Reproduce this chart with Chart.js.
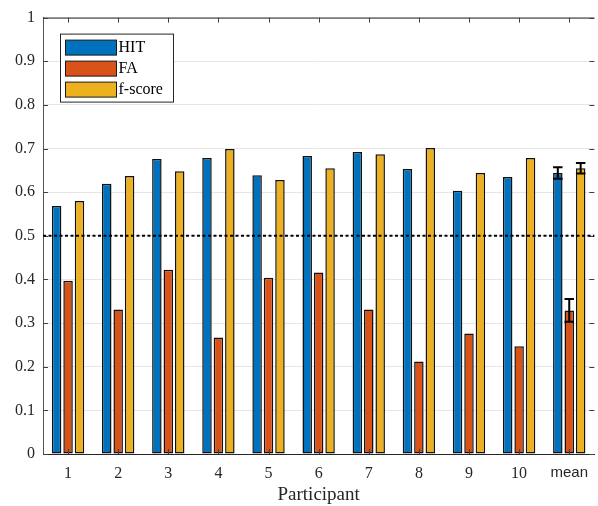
<!DOCTYPE html>
<html>
<head>
<meta charset="utf-8">
<script src="https://cdn.jsdelivr.net/npm/chart.js@4.4.1/dist/chart.umd.min.js"></script>
<style>
body { margin: 0; background: #fff; }
</style>
</head>
<body>
<canvas id="myChart" width="598" height="506"></canvas>
<script>
"use strict";

const categories = ['1', '2', '3', '4', '5', '6', '7', '8', '9', '10', 'mean'];
const hit = [0.568, 0.619, 0.676, 0.678, 0.639, 0.683, 0.692, 0.653, 0.603, 0.635, 0.644];
const fa = [0.397, 0.331, 0.422, 0.267, 0.404, 0.416, 0.331, 0.212, 0.276, 0.247, 0.329];
const fscore = [0.580, 0.637, 0.648, 0.699, 0.628, 0.655, 0.687, 0.701, 0.644, 0.678, 0.655];
// error bars only on the mean group
const hitErr = [null, null, null, null, null, null, null, null, null, null, 0.013];
const faErr = [null, null, null, null, null, null, null, null, null, null, 0.026];
const fscoreErr = [null, null, null, null, null, null, null, null, null, null, 0.012];
const chanceLevel = 0.5;

const ctx = document.getElementById('myChart');
const serif = "'Liberation Serif', 'DejaVu Serif', serif";

// dotted line at chance level + error bars + inner ticks + top border
const extras = {
    id: 'extras',
    afterDatasetsDraw(chart) {
        const c = chart.ctx;
        const a = chart.chartArea;
        const ys = chart.scales.y;
        const xs = chart.scales.x;

        c.save();
        // top border
        c.strokeStyle = '#262626';
        c.lineWidth = 1;
        c.beginPath();
        c.moveTo(a.left, a.top + 0.5);
        c.lineTo(a.right, a.top + 0.5);
        c.stroke();

        // inner ticks
        c.strokeStyle = '#404040';
        ys.ticks.forEach((t, i) => {
            const y = Math.round(ys.getPixelForTick(i)) + 0.5;
            c.beginPath();
            c.moveTo(a.left, y);
            c.lineTo(a.left + 5, y);
            c.moveTo(a.right, y);
            c.lineTo(a.right - 5, y);
            c.stroke();
        });
        xs.ticks.forEach((t, i) => {
            const x = Math.round(xs.getPixelForTick(i)) + 0.5;
            c.beginPath();
            c.moveTo(x, a.bottom);
            c.lineTo(x, a.bottom - 5);
            c.moveTo(x, a.top);
            c.lineTo(x, a.top + 5);
            c.stroke();
        });

        // chance line
        const y5 = ys.getPixelForValue(chanceLevel);
        c.strokeStyle = '#000';
        c.lineWidth = 2;
        c.setLineDash([3, 2.5]);
        c.beginPath();
        c.moveTo(a.left, y5);
        c.lineTo(a.right, y5);
        c.stroke();
        c.setLineDash([]);

        // error bars
        const errs = [hitErr, faErr, fscoreErr];
        chart.data.datasets.forEach((ds, i) => {
            const meta = chart.getDatasetMeta(i);
            errs[i].forEach((e, j) => {
                if (e == null) return;
                const bar = meta.data[j];
                const v = ds.data[j];
                const yt = ys.getPixelForValue(v + e);
                const yb = ys.getPixelForValue(v - e);
                const hw = bar.width / 2;
                c.strokeStyle = '#000';
                c.lineWidth = 2;
                c.beginPath();
                c.moveTo(bar.x, yt);
                c.lineTo(bar.x, yb);
                c.moveTo(bar.x - hw, yt);
                c.lineTo(bar.x + hw, yt);
                c.moveTo(bar.x - hw, yb);
                c.lineTo(bar.x + hw, yb);
                c.stroke();
            });
        });
        c.restore();
    },
    afterDraw(chart) {
        // legend box inside the axes
        const c = chart.ctx;
        const a = chart.chartArea;
        const x0 = a.left + 17.5, y0 = a.top + 16.5, w = 113, h = 68;
        c.save();
        c.fillStyle = '#fff';
        c.fillRect(x0, y0, w, h);
        c.strokeStyle = '#262626';
        c.lineWidth = 1;
        c.strokeRect(x0, y0, w, h);
        c.font = '16px ' + serif;
        c.textBaseline = 'middle';
        chart.data.datasets.forEach((ds, i) => {
            const cy = y0 + 13 + i * 21;
            c.fillStyle = ds.backgroundColor;
            c.fillRect(x0 + 5, cy - 7, 51, 15);
            c.strokeStyle = '#1a1a1a';
            c.strokeRect(x0 + 5, cy - 7, 51, 15);
            c.fillStyle = '#000';
            c.fillText(ds.label, x0 + 58, cy + 1);
        });
        c.restore();
    }
};

new Chart(ctx, {
    type: 'bar',
    data: {
        labels: categories,
        datasets: [{
            label: 'HIT',
            data: hit,
            backgroundColor: '#0072BD',
            borderColor: '#111',
            borderWidth: 1.5,
            borderSkipped: false
        }, {
            label: 'FA',
            data: fa,
            backgroundColor: '#D95319',
            borderColor: '#111',
            borderWidth: 1.5,
            borderSkipped: false
        }, {
            label: 'f-score',
            data: fscore,
            backgroundColor: '#EDB120',
            borderColor: '#111',
            borderWidth: 1.5,
            borderSkipped: false
        }]
    },
    options: {
        responsive: false,
        animation: false,
        categoryPercentage: 0.684,
        barPercentage: 0.83,
        layout: { padding: { top: 15, right: 0, left: 0, bottom: 0 } },
        plugins: {
            legend: { display: false },
            tooltip: { enabled: false }
        },
        scales: {
            x: {
                grid: { display: false, drawTicks: false },
                border: { color: '#262626', width: 1 },
                ticks: {
                    color: '#262626',
                    padding: 10,
                    maxRotation: 0,
                    font: (c) => (c.tick && c.tick.label === 'mean')
                        ? { family: "'Liberation Sans', Arial, sans-serif", size: 15 }
                        : { family: serif, size: 16 }
                },
                title: {
                    display: true,
                    text: 'Participant',
                    color: '#262626',
                    font: { family: serif, size: 19 },
                    padding: { top: 0, bottom: 0 }
                },
                afterFit: (s) => { s.height = 52; }
            },
            y: {
                min: 0,
                max: 1,
                ticks: {
                    stepSize: 0.1,
                    color: '#262626',
                    padding: 8,
                    font: { family: serif, size: 16 },
                    callback: (v) => String(Math.round(v * 10) / 10)
                },
                grid: { color: '#e6e6e6', drawTicks: false },
                border: { color: '#555', width: 1 },
                afterFit: (s) => { s.width = 43; }
            }
        }
    },
    plugins: [extras]
});
</script>
</body>
</html>
